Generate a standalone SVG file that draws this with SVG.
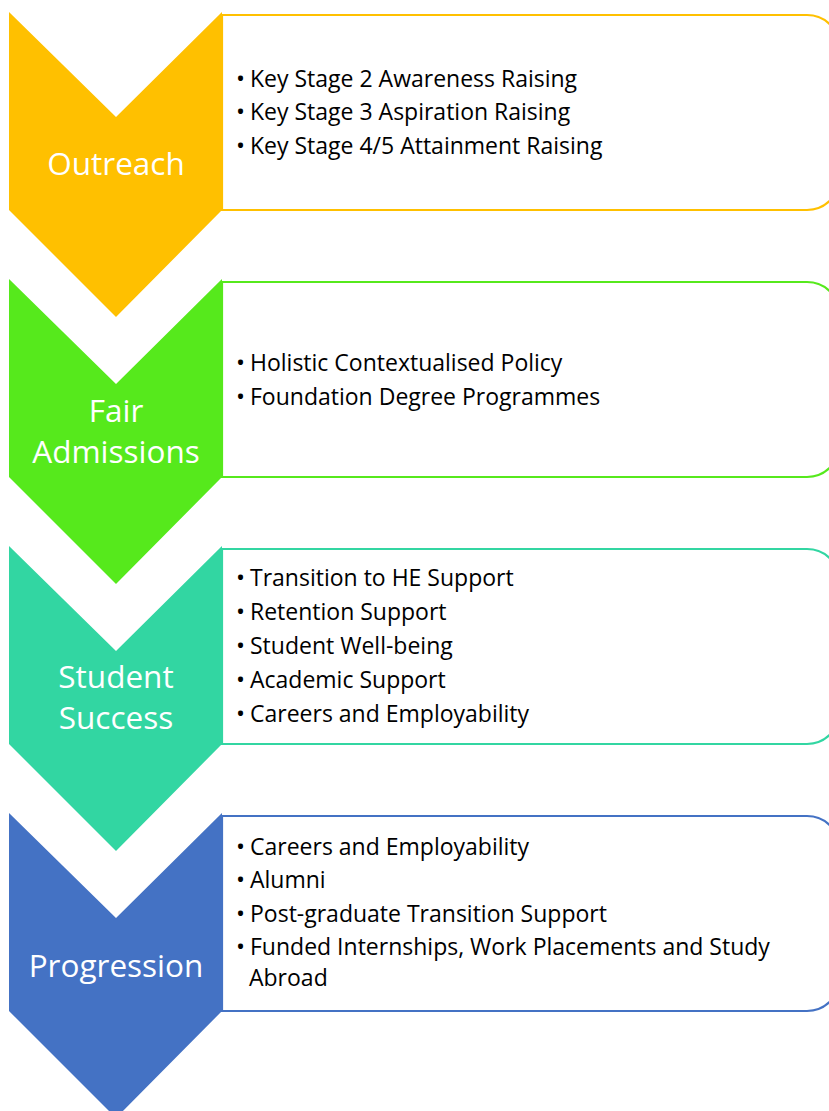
<svg xmlns="http://www.w3.org/2000/svg" width="829" height="1111" viewBox="0 0 829 1111">
<style>
.box{fill:#fff;stroke-width:2.2}
.lbl{font-family:"Open Sans","Liberation Sans",sans-serif;font-size:31.5px;fill:#fff;text-anchor:middle}
.itm{font-family:"Open Sans","Liberation Sans",sans-serif;font-size:23px;fill:#000}
.b{font-size:24px}
</style>
<rect width="829" height="1111" fill="#fff"/>
<g id="outreach">
<path class="box" stroke="#FFC000" d="M222,15 H807 A33,33 0 0 1 840,48 V177 A33,33 0 0 1 807,210 H222 Z"/>
<polygon fill="#FFC000" points="9,12 116,117 222,12 222,210 116,317 9,210"/>
<text class="lbl" x="116" y="175">Outreach</text>
<text class="itm"><tspan class="b" x="236" y="87">•</tspan><tspan x="250" y="87">Key Stage 2 Awareness Raising</tspan><tspan class="b" x="236" y="120">•</tspan><tspan x="250" y="120">Key Stage 3 Aspiration Raising</tspan><tspan class="b" x="236" y="154">•</tspan><tspan x="250" y="154">Key Stage 4/5 Attainment Raising</tspan></text>
</g>
<g id="fair-admissions">
<path class="box" stroke="#56E91C" d="M222,282 H807 A33,33 0 0 1 840,315 V444 A33,33 0 0 1 807,477 H222 Z"/>
<polygon fill="#56E91C" points="9,279 116,384 222,279 222,477 116,584 9,477"/>
<text class="lbl" x="116" y="422">Fair</text>
<text class="lbl" x="116" y="463">Admissions</text>
<text class="itm"><tspan class="b" x="236" y="371">•</tspan><tspan x="250" y="371">Holistic Contextualised Policy</tspan><tspan class="b" x="236" y="405">•</tspan><tspan x="250" y="405">Foundation Degree Programmes</tspan></text>
</g>
<g id="student-success">
<path class="box" stroke="#32D6A2" d="M222,549 H807 A33,33 0 0 1 840,582 V711 A33,33 0 0 1 807,744 H222 Z"/>
<polygon fill="#32D6A2" points="9,546 116,651 222,546 222,744 116,851 9,744"/>
<text class="lbl" x="116" y="688">Student</text>
<text class="lbl" x="116" y="729">Success</text>
<text class="itm"><tspan class="b" x="236" y="586">•</tspan><tspan x="250" y="586">Transition to HE Support</tspan><tspan class="b" x="236" y="620">•</tspan><tspan x="250" y="620">Retention Support</tspan><tspan class="b" x="236" y="654">•</tspan><tspan x="250" y="654">Student Well-being</tspan><tspan class="b" x="236" y="688">•</tspan><tspan x="250" y="688">Academic Support</tspan><tspan class="b" x="236" y="722">•</tspan><tspan x="250" y="722">Careers and Employability</tspan></text>
</g>
<g id="progression">
<path class="box" stroke="#4472C4" d="M222,816 H807 A33,33 0 0 1 840,849 V978 A33,33 0 0 1 807,1011 H222 Z"/>
<polygon fill="#4472C4" points="9,813 116,918 222,813 222,1011 116,1118 9,1011"/>
<text class="lbl" x="116" y="977">Progression</text>
<text class="itm"><tspan class="b" x="236" y="855">•</tspan><tspan x="250" y="855">Careers and Employability</tspan><tspan class="b" x="236" y="888">•</tspan><tspan x="250" y="888">Alumni</tspan><tspan class="b" x="236" y="922">•</tspan><tspan x="250" y="922">Post-graduate Transition Support</tspan><tspan class="b" x="236" y="955">•</tspan><tspan x="250" y="955">Funded Internships, Work Placements and Study</tspan><tspan x="249" y="986">Abroad</tspan></text>
</g>
<g id="connectors"/>
</svg>
